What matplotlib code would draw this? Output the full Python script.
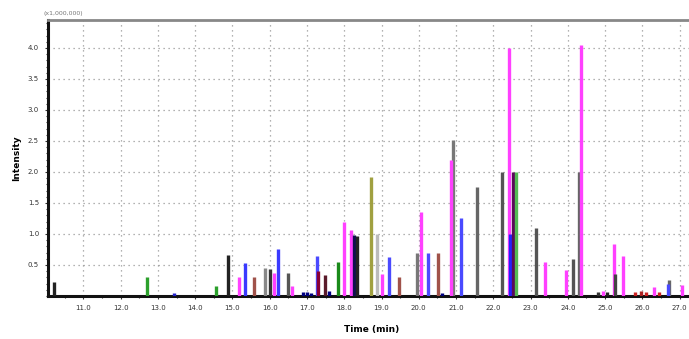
import matplotlib
matplotlib.use("Agg")
from matplotlib import pyplot as plt
from matplotlib.ticker import MultipleLocator

# peak list: retention time (min), height (x1,000,000), colour
peak_times = [10.21, 12.71, 13.44, 14.55, 14.88, 15.17, 15.33, 15.58, 15.88, 16.01,
              16.12, 16.23, 16.50, 16.61, 16.90, 17.00, 17.10, 17.26, 17.30, 17.48,
              17.60, 17.83, 17.99, 18.18, 18.27, 18.33, 18.72, 18.88, 19.00, 19.21,
              19.48, 19.94, 20.05, 20.24, 20.51, 20.62, 20.92, 20.86, 21.13, 21.57,
              22.22, 22.41, 22.46, 22.52, 22.60, 23.14, 23.38, 23.95, 24.14, 24.31,
              24.36, 24.80, 24.95, 25.05, 25.25, 25.26, 25.47, 25.80, 25.95, 26.10,
              26.31, 26.45, 26.72, 26.70, 27.07]
peak_heights = [0.23, 0.31, 0.04, 0.16, 0.66, 0.31, 0.53, 0.31, 0.45, 0.44,
                0.37, 0.76, 0.37, 0.16, 0.06, 0.07, 0.05, 0.64, 0.40, 0.34,
                0.08, 0.55, 1.20, 1.06, 0.98, 0.97, 1.92, 1.00, 0.35, 0.63,
                0.31, 0.69, 1.36, 0.69, 0.69, 0.05, 2.52, 2.19, 1.26, 1.76,
                2.00, 4.00, 1.00, 2.00, 2.00, 1.10, 0.55, 0.42, 0.60, 2.00,
                4.05, 0.07, 0.08, 0.06, 0.84, 0.36, 0.65, 0.07, 0.08, 0.06,
                0.15, 0.06, 0.26, 0.20, 0.17]
peak_colors = ["#222222", "#2ca02c", "#2222cc", "#2ca02c", "#222222", "#ff40ff", "#3a3aff", "#a0524a", "#888888", "#333333",
               "#ff40ff", "#3a3aff", "#555555", "#ff40ff", "#000080", "#000080", "#000080", "#4a4aff", "#880033", "#5a1a2a",
               "#000080", "#1a8a1a", "#ff40ff", "#ff40ff", "#101050", "#222222", "#a0a040", "#bbbbbb", "#ff40ff", "#4a4aff",
               "#a0524a", "#777777", "#ff40ff", "#4a4aff", "#a0524a", "#000080", "#777777", "#ff40ff", "#4a4aff", "#666666",
               "#555555", "#ff40ff", "#2222ff", "#5a0a5a", "#55bb55", "#555555", "#ff40ff", "#ff40ff", "#555555", "#666666",
               "#ff40ff", "#333333", "#ff40ff", "#222222", "#ff40ff", "#444444", "#ff40ff", "#cc2222", "#aa2222", "#cc2222",
               "#ff40ff", "#cc2222", "#666666", "#4a4aff", "#ff40ff"]

x_ticks = [11.0, 12.0, 13.0, 14.0, 15.0, 16.0, 17.0, 18.0, 19.0,
           20.0, 21.0, 22.0, 23.0, 24.0, 25.0, 26.0, 27.0]
y_ticks = [0.5, 1.0, 1.5, 2.0, 2.5, 3.0, 3.5, 4.0]

fig = plt.figure(figsize=(6.89, 3.39), dpi=100)
ax = fig.add_axes([0.0697, 0.127, 0.94, 0.814])

ax.vlines(peak_times, 0, peak_heights, colors=peak_colors, linewidth=2.4, zorder=3)

ax.set_xlim(10.05, 27.43)
ax.set_ylim(0, 4.45)
ax.set_xticks(x_ticks)
ax.set_xticklabels([f"{t:.1f}" for t in x_ticks])
ax.set_yticks(y_ticks)
ax.set_yticklabels([f"{v:.1f}" for v in y_ticks])
ax.yaxis.set_minor_locator(MultipleLocator(0.1))
ax.xaxis.set_minor_locator(MultipleLocator(0.5))
ax.tick_params(which="major", labelsize=5, colors="#333333", length=2.5, width=0.8, pad=4)
ax.tick_params(which="minor", length=1.5, width=0.8, colors="#333333")

ax.grid(True, which="major", linestyle=(0, (1, 3)), color="#999999", linewidth=0.9)

for side in ("left", "bottom"):
    ax.spines[side].set_linewidth(2.2)
    ax.spines[side].set_color("#111111")
ax.spines["top"].set_linewidth(2.0)
ax.spines["top"].set_color("#888888")
ax.spines["right"].set_visible(False)

ax.set_xlabel("Time (min)", fontsize=6.5, fontweight="bold", labelpad=10)
ax.set_ylabel("Intensity", fontsize=6.5, fontweight="bold", labelpad=5)
fig.text(0.063, 0.955, "(x1,000,000)", fontsize=4.5, color="#777777")

fig.savefig("out.png", dpi=100)
